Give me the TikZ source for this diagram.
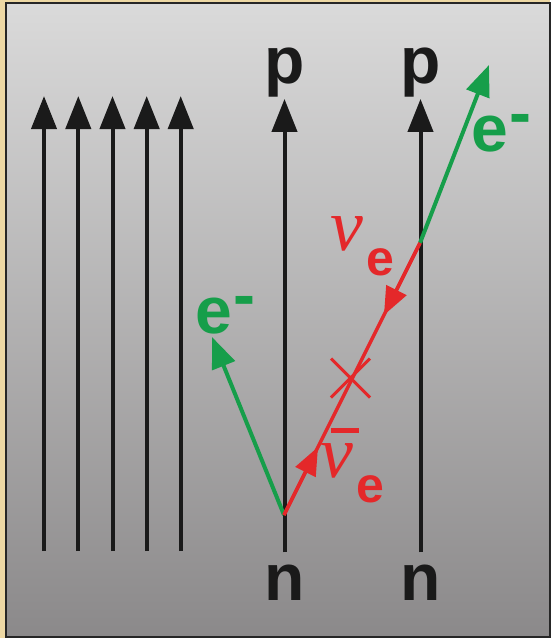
\documentclass[tikz,border=0pt]{standalone}
\usepackage{fontspec}
\setmainfont{Liberation Sans}
\newfontfamily\nufont{Liberation Serif}
\usetikzlibrary{arrows.meta,calc,shapes.misc}
\definecolor{frametan}{RGB}{237,216,164}
\definecolor{bgtop}{RGB}{218,218,218}
\definecolor{bgbot}{RGB}{139,137,138}
\definecolor{elgreen}{RGB}{22,158,74}
\definecolor{nured}{RGB}{228,40,42}
\definecolor{ink}{RGB}{26,26,26}
\newcommand\elec{e\kern2pt\raisebox{16pt}{-}}
\newcommand\nusub{{\normalfont\fontsize{50}{50}\selectfont\bfseries\kern3pt\raisebox{-25pt}{e}}}
\begin{document}
\begin{tikzpicture}[x=1pt,y=-1pt,
  worldline/.style={draw=ink,line width=4pt,-{Triangle[length=33pt,width=25pt]}},
  elline/.style={draw=elgreen,line width=4pt,-{Triangle[length=31pt,width=24pt]}},
  nuline/.style={draw=nured,line width=3.5pt},
  nuarrow/.style={nuline,-{Triangle[length=28pt,width=22pt]}},
  nucllab/.style={font=\fontsize{66}{66}\selectfont\bfseries,text=ink,anchor=base,inner sep=0pt},
  ellab/.style={font=\fontsize{66}{66}\selectfont\bfseries,text=elgreen,anchor=base west,inner sep=0pt},
  nulab/.style={font=\nufont\itshape\fontsize{74}{74}\selectfont,text=nured,anchor=base west,inner sep=0pt}]
  \fill[frametan] (0,0) rectangle (550,638);
  \shade[top color=bgtop,bottom color=bgbot] (6,3) rectangle (549.5,637);
  \draw[black!85,line width=2pt] (6,3) rectangle (549.5,637);
  \useasboundingbox (0,0) rectangle (550,638);
  \foreach \x [count=\i] in {44,78.3,112.5,146.7,180.7}{
    \coordinate (b\i) at (\x,551);
    \coordinate (t\i) at (\x,96);
    \draw[worldline] (b\i) -- (t\i);
  }
  \node[nucllab] (p1) at (284.5,83) {p};
  \node[nucllab] (p2) at (420.5,83) {p};
  \node[nucllab] (n1) at (284.5,600) {n};
  \node[nucllab] (n2) at (420.5,600) {n};
  \draw[worldline,shorten <=12pt,shorten >=2pt] (n1.north) -- (p1.south);
  \draw[worldline,shorten <=12pt,shorten >=2pt] (n2.north) -- (p2.south);
  \coordinate (vtx) at (284,515);
  \coordinate (cross) at (420,243);
  \coordinate (eout) at (489,65);
  \coordinate (ein) at (212,337);
  \draw[elline] (cross) -- (eout);
  \draw[elline] (vtx) -- (ein);
  \draw[nuline] (cross) -- (vtx);
  \draw[nuarrow] (cross) -- ($(cross)!0.265!(vtx)$);
  \draw[nuarrow] (vtx) -- ($(vtx)!0.25!(cross)$);
  \node[cross out,draw=nured,line width=3pt,minimum size=36pt,inner sep=0pt] (osc) at (350.5,378) {};
  \node[ellab] (e1) at (471,151) {\elec};
  \node[ellab] (e2) at (195,333) {\elec};
  \node[nulab] (nu) at (330,250) {ν\nusub};
  \node[nulab] (nubar) at (320,477) {\rlap{\hspace{11pt}\rule[44pt]{28pt}{5pt}}ν\nusub};
\end{tikzpicture}
\end{document}
